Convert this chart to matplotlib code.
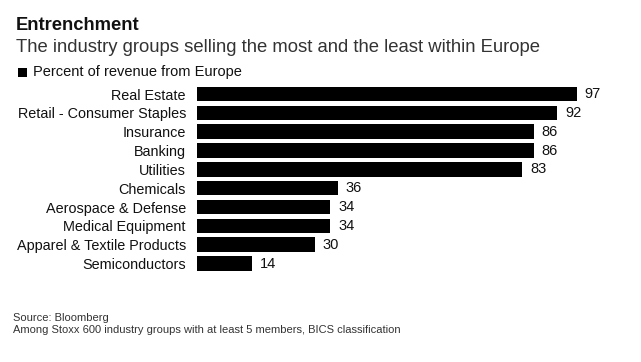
import matplotlib.pyplot as plt
from matplotlib.patches import Rectangle

categories = ["Real Estate", "Retail - Consumer Staples", "Insurance", "Banking", "Utilities",
              "Chemicals", "Aerospace & Defense", "Medical Equipment",
              "Apparel & Textile Products", "Semiconductors"]
values = [97, 92, 86, 86, 83, 36, 34, 34, 30, 14]

W, H = 641, 362
plt.rcParams["font.family"] = ["Liberation Sans", "DejaVu Sans"]

fig = plt.figure(figsize=(W / 100, H / 100), dpi=100)
fig.patch.set_facecolor("white")

# axes placed in pixel terms
left, right = 197, 577
top, bottom = 84.6, 273
ax = fig.add_axes([left / W, 1 - bottom / H, (right - left) / W, (bottom - top) / H])
ypos = list(range(len(categories)))
ax.barh(ypos, values, height=0.77, color="black")
ax.set_xlim(0, 97)
ax.set_ylim(len(categories) - 0.5, -0.5)
ax.set_yticks(ypos)
ax.set_yticklabels(categories, fontsize=10.4, color="#111111")
ax.tick_params(axis="y", length=0, pad=8)
ax.set_xticks([])
for s in ax.spines.values():
    s.set_visible(False)
for y, v in zip(ypos, values):
    ax.text(v + 2.0, y, str(v), va="center", ha="left", fontsize=10.5, color="#111111", clip_on=False)

fig.text(16 / W, 1 - 25 / H, "Entrenchment", fontsize=13.2, fontweight="bold", va="center", color="#111111")
fig.text(16 / W, 1 - 47 / H, "The industry groups selling the most and the least within Europe",
         fontsize=13.3, va="center", color="#333333")
fig.patches.append(Rectangle((18 / W, 1 - 77 / H), 9 / W, 9 / H, transform=fig.transFigure,
                             facecolor="black", edgecolor="none"))
fig.text(33 / W, 1 - 72 / H, "Percent of revenue from Europe", fontsize=10.5, va="center", color="#111111")

fig.text(13 / W, 1 - 318 / H, "Source: Bloomberg", fontsize=8.0, va="center", color="#333333")
fig.text(13 / W, 1 - 330 / H, "Among Stoxx 600 industry groups with at least 5 members, BICS classification",
         fontsize=8.0, va="center", color="#333333")

fig.savefig("out.png", dpi=100)
